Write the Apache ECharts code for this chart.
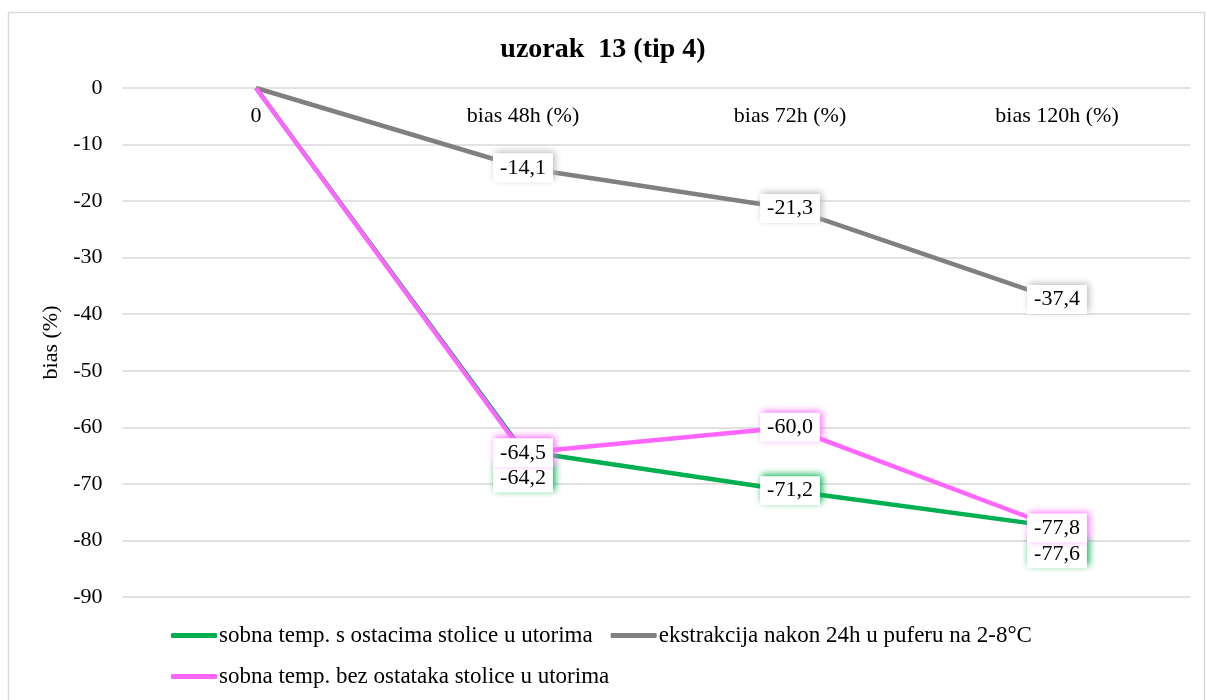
<!DOCTYPE html>
<html>
<head>
<meta charset="utf-8">
<script src="https://cdn.jsdelivr.net/npm/echarts@6/dist/echarts.min.js"></script>
<style>
  html, body { margin: 0; padding: 0; background: #fff; }
  #main { width: 1206px; height: 700px; }
</style>
</head>
<body>
<div id="main"></div>
<script>
var categories = ['0', 'bias 48h (%)', 'bias 72h (%)', 'bias 120h (%)'];
var seriesNames = [
    'sobna temp. s ostacima stolice u utorima',
    'ekstrakcija nakon 24h u puferu na 2-8°C',
    'sobna temp. bez ostataka stolice u utorima'
];
var greenValues = [0, -64.2, -71.2, -77.6];
var grayValues = [0, -14.1, -21.3, -37.4];
var pinkValues = [0, -64.5, -60.0, -77.8];
var colors = ['#00b050', '#808080', '#ff66ff'];

var serif = "'Liberation Serif', 'Times New Roman', serif";

var myChart = echarts.init(document.getElementById('main'));

// push some labels down so they don't cover each other (as in the original)
function makeData(values, shifts) {
    return values.map(function (v, i) {
        var item = { value: v };
        if (i === 0) {
            item.label = { show: false };
        } else if (shifts && shifts[i]) {
            item.label = { offset: [0, shifts[i]] };
        }
        return item;
    });
}

function labelStyle(color) {
    return {
        show: true,
        position: 'inside',
        color: '#000',
        fontFamily: serif,
        fontSize: 22,
        backgroundColor: '#fff',
        padding: [4, 7, 3, 7],
        shadowColor: color,
        shadowBlur: 7,
        shadowOffsetX: 2,
        shadowOffsetY: -2,
        formatter: function (p) {
            return p.value.toFixed(1).replace('.', ',');
        }
    };
}

option = {
    backgroundColor: '#fff',
    color: colors,
    title: {
        text: 'uzorak  13 (tip 4)',
        left: 'center',
        top: 31,
        textStyle: {
            fontFamily: serif,
            fontSize: 28,
            fontWeight: 'bold',
            color: '#000'
        }
    },
    graphic: [{
        type: 'rect',
        shape: { x: 8.5, y: 12.5, width: 1196, height: 700 },
        style: { fill: 'none', stroke: '#d9d9d9', lineWidth: 1.5 },
        silent: true
    }],
    legend: {
        left: 166,
        top: 619,
        width: 900,
        icon: 'roundRect',
        itemWidth: 46,
        itemHeight: 5,
        itemGap: 18,
        textStyle: {
            fontFamily: serif,
            fontSize: 23,
            color: '#000',
            padding: [0, 0, 0, -3]
        },
        data: seriesNames
    },
    grid: {
        left: 122.5,
        right: 15.5,
        top: 88,
        bottom: 103
    },
    xAxis: {
        type: 'category',
        position: 'top',
        data: categories,
        axisLine: { show: false },
        axisTick: { show: false },
        axisLabel: {
            inside: true,
            margin: 17,
            fontFamily: serif,
            fontSize: 22,
            color: '#000'
        }
    },
    yAxis: {
        type: 'value',
        min: -90,
        max: 0,
        interval: 10,
        name: 'bias (%)',
        nameLocation: 'middle',
        nameGap: 58,
        nameRotate: 90,
        nameTextStyle: {
            fontFamily: serif,
            fontSize: 22,
            color: '#000'
        },
        axisLine: { show: false },
        axisTick: { show: false },
        axisLabel: {
            margin: 20,
            fontFamily: serif,
            fontSize: 22,
            color: '#000'
        },
        splitLine: {
            lineStyle: { color: '#d9d9d9', width: 1.5 }
        }
    },
    series: [
        {
            name: seriesNames[0],
            type: 'line',
            symbol: 'circle',
            symbolSize: 0,
            lineStyle: { width: 4.5, color: colors[0] },
            label: labelStyle(colors[0]),
            data: makeData(greenValues, { 1: 27, 3: 27 })
        },
        {
            name: seriesNames[1],
            type: 'line',
            symbol: 'circle',
            symbolSize: 0,
            lineStyle: { width: 4.5, color: colors[1] },
            label: labelStyle('#bbbbbb'),
            data: makeData(grayValues)
        },
        {
            name: seriesNames[2],
            type: 'line',
            symbol: 'circle',
            symbolSize: 0,
            lineStyle: { width: 4.5, color: colors[2] },
            label: labelStyle(colors[2]),
            data: makeData(pinkValues)
        }
    ]
};
myChart.setOption(option);
</script>
</body>
</html>
